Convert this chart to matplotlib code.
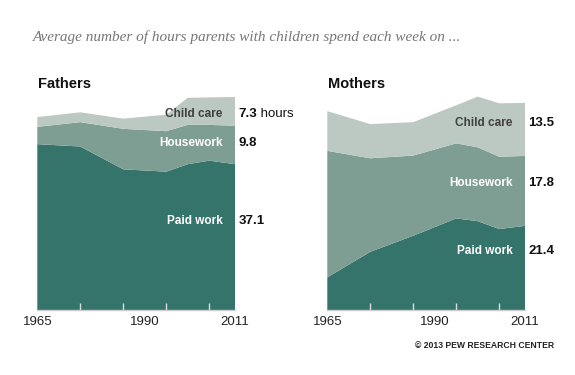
import matplotlib
matplotlib.use("Agg")
import matplotlib.pyplot as plt

# Data (hours per week)
years = [1965, 1975, 1985, 1995, 2000, 2005, 2011]

fathers_paid = [42.2, 41.6, 35.8, 35.2, 37.1, 38.0, 37.1]
fathers_house = [4.4, 6.2, 10.3, 10.3, 10.0, 9.1, 9.8]
fathers_care = [2.5, 2.5, 2.6, 4.2, 6.9, 7.0, 7.3]

mothers_paid = [8.3, 14.8, 18.9, 23.3, 22.6, 20.6, 21.4]
mothers_house = [32.2, 23.8, 20.4, 19.1, 18.8, 18.4, 17.8]
mothers_care = [10.1, 8.7, 8.5, 9.7, 12.9, 13.6, 13.5]

series_names = ["Paid work", "Housework", "Child care"]
fathers_values = ["37.1", "9.8", "7.3"]
mothers_values = ["21.4", "17.8", "13.5"]
# vertical position (hours) of the in-chart labels
fathers_label_y = [22.6, 42.6, 49.9]
mothers_label_y = [15.0, 32.4, 47.7]

tick_labels = [1965, 1990, 2011]
minor_ticks = [1975, 1985, 1995, 2005]

colors = ["#35746a", "#7f9e93", "#bcc9c3"]
label_colors = ["white", "white", "#404040"]

plt.rcParams["font.family"] = ["Liberation Sans", "DejaVu Sans"]

fig = plt.figure(figsize=(5.75, 3.75), dpi=100)
fig.patch.set_facecolor("white")

fig.text(33 / 575, 1 - 37 / 375, "Average number of hours parents with children spend each week on ...",
         fontsize=11, style="italic", family="Liberation Serif", color="#777777", va="center")


def panel(left, title, paid, house, care, values, label_y, units):
    ax = fig.add_axes([left, 65 / 375, 197.7 / 575, 60 * 3.93 / 375])
    ax.stackplot(years, paid, house, care, colors=colors, linewidth=0)
    ax.set_xlim(1965, 2011)
    ax.set_ylim(0, 60)
    for s in ["top", "right", "left"]:
        ax.spines[s].set_visible(False)
    ax.spines["bottom"].set_color("#cccccc")
    ax.spines["bottom"].set_linewidth(1)
    ax.set_yticks([])
    ax.set_xticks(tick_labels)
    ax.set_xticklabels([str(t) for t in tick_labels], fontsize=9.5, color="#222222")
    ax.tick_params(axis="x", length=0, pad=4)
    ax.set_xticks(minor_ticks, minor=True)
    ax.tick_params(axis="x", which="minor", direction="in", length=5, color="#dddddd", width=1)
    fig.text(left + 1 / 575, 1 - 84 / 375, title, fontsize=10.5, fontweight="bold",
             va="center", ha="left", color="#111111")
    for i in range(3):
        ax.annotate(series_names[i], xy=(2011, label_y[i]), xytext=(-9, 0),
                    textcoords="offset points", ha="right", va="center",
                    fontsize=8.5, fontweight="bold", color=label_colors[i])
        t = ax.annotate(values[i], xy=(2011, label_y[i]), xytext=(2.5, 0),
                        textcoords="offset points", ha="left", va="center",
                        fontsize=9.5, fontweight="bold", color="#111111", annotation_clip=False)
        if units and i == 2:
            ax.annotate(" hours", xy=(1, 0.5), xycoords=t, ha="left", va="center",
                        fontsize=9.5, color="#111111", annotation_clip=False)
    return ax


panel(37.3 / 575, "Fathers", fathers_paid, fathers_house, fathers_care,
      fathers_values, fathers_label_y, True)
panel(327.3 / 575, "Mothers", mothers_paid, mothers_house, mothers_care,
      mothers_values, mothers_label_y, False)

fig.text(554 / 575, 1 - 346 / 375, "\u00a9 2013 PEW RESEARCH CENTER", fontsize=6.2,
         ha="right", va="center", color="#222222", fontweight="bold")

fig.savefig("out.png", dpi=100)
